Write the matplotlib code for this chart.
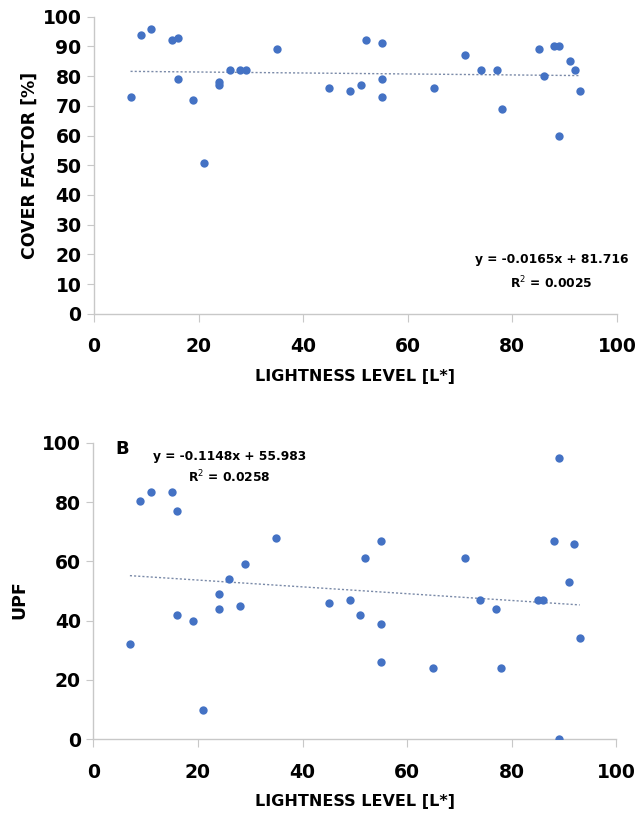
import matplotlib.pyplot as plt

# lightness level L* of each sample (shared by both panels)
lightness = [7, 9, 11, 15, 16, 16, 19, 21, 24, 24, 26, 28, 29, 35, 45, 49, 51,
             52, 55, 55, 55, 65, 71, 74, 77, 78, 85, 86, 88, 89, 89, 91, 92, 93]
# panel A: cover factor [%]
cover_factor = [73, 94, 96, 92, 93, 79, 72, 50.6, 78, 77, 82, 82, 82, 89, 76, 75, 77,
                92, 91, 79, 73, 76, 87, 82, 82, 69, 89, 80, 90, 90, 60, 85, 82, 75]
# panel B: UPF
upf = [32, 80.5, 83.5, 83.5, 77, 42, 40, 10, 49, 44, 54, 45, 59, 68, 46, 47, 42,
       61, 67, 39, 26, 24, 61, 47, 44, 24, 47, 47, 67, 95, 0, 53, 66, 34]

# trend lines as reported on the chart
fit_a = (-0.0165, 81.716)
fit_b = (-0.1148, 55.983)
eq_a = ['y = -0.0165x + 81.716', 'R$^{2}$ = 0.0025']
eq_b = ['y = -0.1148x + 55.983', 'R$^{2}$ = 0.0258']

plt.rcParams['font.family'] = ['DejaVu Sans']
dot_color = '#4472C4'
axis_color = '#c8c8c8'

fig = plt.figure(figsize=(6.39, 8.15), dpi=100)
ax1 = fig.add_axes([0.147, 0.615, 0.8185, 0.3645])
ax2 = fig.add_axes([0.146, 0.093, 0.8185, 0.3637])


def style(ax, yticks):
    ax.set_xlim(0, 100)
    ax.set_ylim(0, 100)
    ax.set_xticks([0, 20, 40, 60, 80, 100])
    ax.set_yticks(yticks)
    for s in ['top', 'right']:
        ax.spines[s].set_visible(False)
    for s in ['left', 'bottom']:
        ax.spines[s].set_color(axis_color)
        ax.spines[s].set_linewidth(1)
    ax.tick_params(axis='x', length=6, color=axis_color, pad=11, labelsize=13.5)
    ax.tick_params(axis='y', length=5, color=axis_color, pad=4, labelsize=13.5)
    for lab in ax.get_xticklabels() + ax.get_yticklabels():
        lab.set_fontweight('bold')
    ax.set_xlabel('LIGHTNESS LEVEL [L*]', fontsize=11.5, fontweight='bold', labelpad=9)


def trend(ax, fit):
    x0, x1 = min(lightness), max(lightness)
    k, b = fit
    ax.plot([x0, x1], [k * x0 + b, k * x1 + b], linestyle=(0, (1.5, 1.5)),
            color='#7a8aa8', linewidth=1, zorder=1)


# panel A
style(ax1, list(range(0, 101, 10)))
trend(ax1, fit_a)
ax1.scatter(lightness, cover_factor, s=36, color=dot_color, zorder=3, linewidths=0)
ax1.set_ylabel('COVER FACTOR [%]', fontsize=12.5, fontweight='bold', labelpad=3)
ax1.text(87.5, 18.3, eq_a[0], ha='center', va='center', fontsize=8.8, fontweight='bold')
ax1.text(87.5, 10.5, eq_a[1], ha='center', va='center', fontsize=8.8, fontweight='bold')

# panel B
style(ax2, list(range(0, 101, 20)))
trend(ax2, fit_b)
ax2.scatter(lightness, upf, s=36, color=dot_color, zorder=3, linewidths=0)
ax2.set_ylabel('UPF', fontsize=12.5, fontweight='bold', labelpad=6)
ax2.yaxis.set_label_coords(-0.125, 0.47)
ax2.text(26, 95.5, eq_b[0], ha='center', va='center', fontsize=8.8, fontweight='bold')
ax2.text(26, 88.5, eq_b[1], ha='center', va='center', fontsize=8.8, fontweight='bold')
ax2.text(4.2, 98, 'B', ha='left', va='center', fontsize=13, fontweight='bold')

fig.savefig('out.png', dpi=100)
